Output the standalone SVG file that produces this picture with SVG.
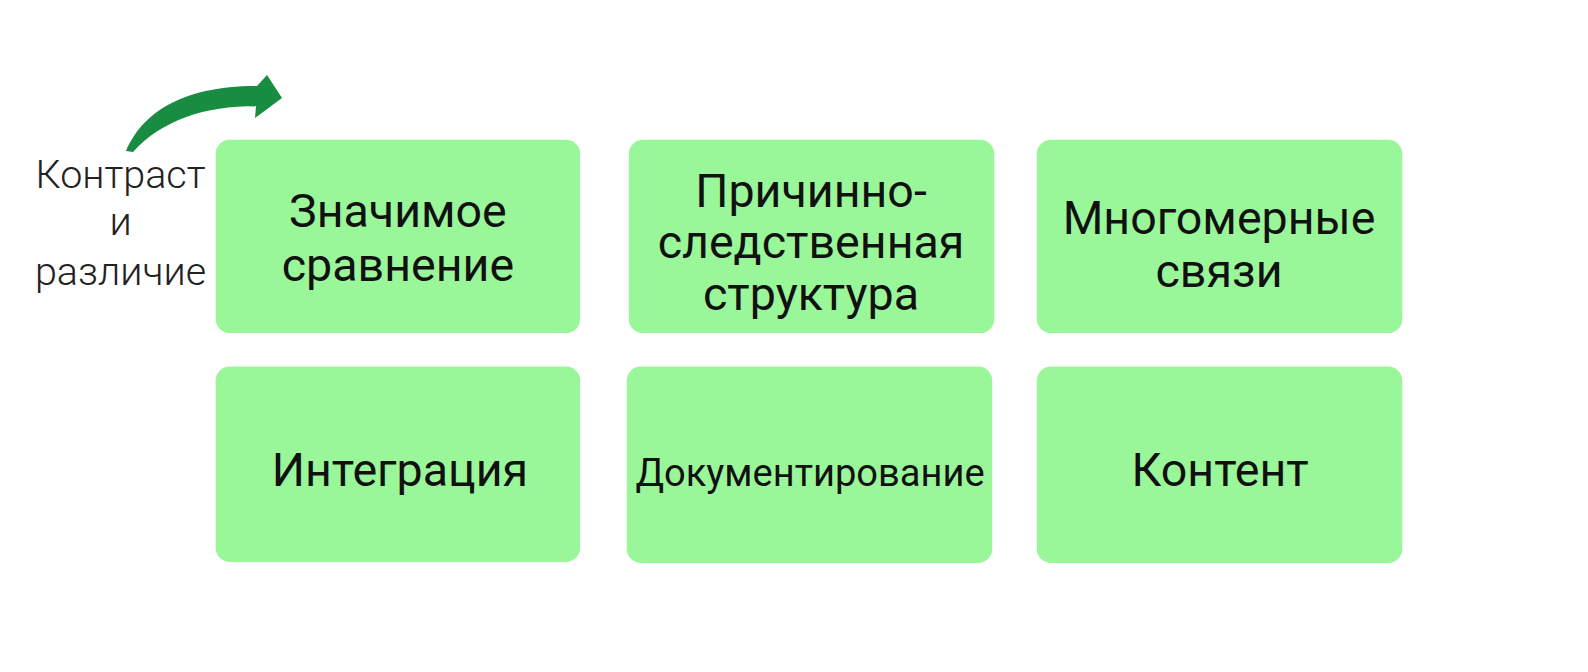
<svg xmlns="http://www.w3.org/2000/svg" width="1588" height="672" viewBox="0 0 1588 672">
<style>
.box{fill:#9af799;}
.t{font-family:Roboto,"Liberation Sans",sans-serif;font-size:46px;fill:#111;text-anchor:middle;}
.s{font-size:37.6px;}
.side{font-family:Roboto,"Liberation Sans",sans-serif;font-weight:300;font-size:39px;fill:#222;text-anchor:middle;}
</style>
<rect width="1588" height="672" fill="#ffffff"/>
<g id="connectors">
<path d="M126,151 C142,114 180,86 257,86 L267,75 L282,98 L255,118 L256,106 C205,106 162,120 133,152 Z" fill="#188c40"/>
</g>
<g transform="scale(1.0125)">
<g id="label-contrast">
<text class="side" x="119" y="186">Контраст</text>
<text class="side" x="119" y="232">и</text>
<text class="side" x="119" y="281">различие</text>
</g>
<g id="n1"><rect class="box" x="213" y="138" width="360" height="191" rx="14"/>
<text class="t" x="393" y="224">Значимое</text><text class="t" x="393" y="278">сравнение</text></g>
<g id="n2"><rect class="box" x="621" y="138" width="361" height="191" rx="14"/>
<text class="t" x="801" y="204">Причинно-</text><text class="t" x="801" y="255">следственная</text><text class="t" x="801" y="306">структура</text></g>
<g id="n3"><rect class="box" x="1024" y="138" width="361" height="191" rx="14"/>
<text class="t" x="1204" y="231">Многомерные</text><text class="t" x="1204" y="283">связи</text></g>
<g id="n4"><rect class="box" x="213" y="362" width="360" height="193" rx="14"/>
<text class="t" x="395" y="480">Интеграция</text></g>
<g id="n5"><rect class="box" x="619" y="362" width="361" height="194" rx="14"/>
<text class="t s" x="800" y="480">Документирование</text></g>
<g id="n6"><rect class="box" x="1024" y="362" width="361" height="194" rx="14"/>
<text class="t" x="1205" y="480">Контент</text></g>
</g>
</svg>
